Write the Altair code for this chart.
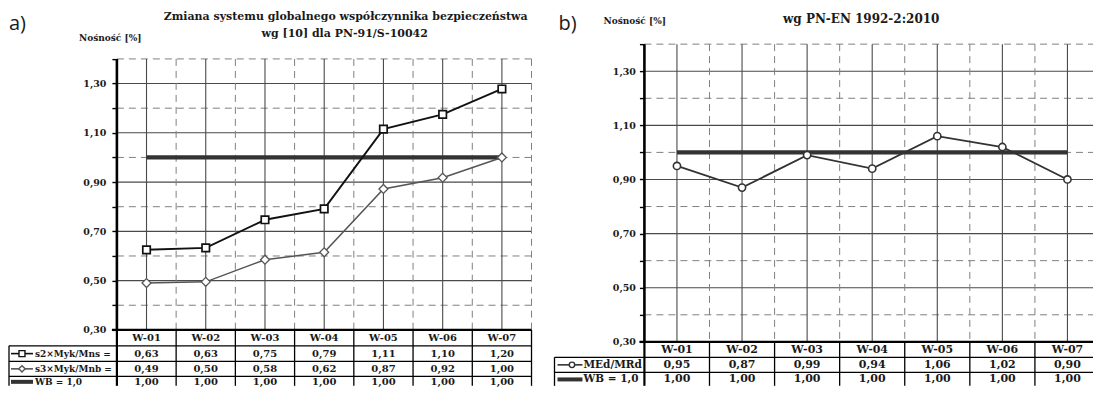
import altair as alt
import pandas as pd

# ---------------- data ----------------
cats = ["W-01", "W-02", "W-03", "W-04", "W-05", "W-06", "W-07"]

# panel a) - plotted positions
a_s2 = [0.625, 0.633, 0.747, 0.791, 1.115, 1.175, 1.278]
a_s3 = [0.49, 0.495, 0.585, 0.615, 0.872, 0.918, 1.00]
a_wb = [1.00, 1.00, 1.00, 1.00, 1.00, 1.00, 1.00]
# panel a) - table texts as printed
a_s2_txt = ["0,63", "0,63", "0,75", "0,79", "1,11", "1,10", "1,20"]
a_s3_txt = ["0,49", "0,50", "0,58", "0,62", "0,87", "0,92", "1,00"]
wb_txt = ["1,00", "1,00", "1,00", "1,00", "1,00", "1,00", "1,00"]

# panel b)
b_med = [0.95, 0.87, 0.99, 0.94, 1.06, 1.02, 0.90]
b_wb = [1.00, 1.00, 1.00, 1.00, 1.00, 1.00, 1.00]
b_med_txt = ["0,95", "0,87", "0,99", "0,94", "1,06", "1,02", "0,90"]

y_ticks = [0.3, 0.4, 0.5, 0.6, 0.7, 0.8, 0.9, 1.0, 1.1, 1.2, 1.3, 1.4]
y_solid = [0.5, 0.7, 0.9, 1.1, 1.3]
y_dashed = [0.4, 0.6, 0.8, 1.0, 1.2, 1.4]

FONT = "DejaVu Serif"
TXT = "#1a1a1a"
ONE = pd.DataFrame({"k": [0]})


def panel(cfg):
    W, H, bottom = cfg["W"], cfg["H"], cfg["bottom"]
    xs = alt.Scale(type="band", domain=cats, paddingInner=0, paddingOuter=0)
    ys = alt.Scale(domain=[0.3, cfg["ytop"]], nice=False, zero=False)
    yaxis = alt.Axis(
        values=y_ticks,
        labelExpr="round(datum.value*10) % 2 == 1 ? replace(format(datum.value, '.2f'), '.', ',') : ''",
        domain=False, grid=False, ticks=True, tickSize=5, tickColor="#000", tickWidth=1.4,
        labelFont=FONT, labelFontWeight="bold", labelFontSize=9.5, labelColor=TXT,
        labelPadding=cfg["lp"], labelOverlap=False, title=None,
    )

    def X(**kw):
        return alt.X("cat:N", scale=xs, axis=None, **kw)

    def Y(f):
        return alt.Y(f, scale=ys, axis=yaxis)

    L = []
    # horizontal grid
    L.append(alt.Chart(pd.DataFrame({"v": y_solid})).mark_rule(color="#4a4a4a", strokeWidth=1.1).encode(
        x=alt.value(0), x2=alt.value(W), y=Y("v:Q")))
    L.append(alt.Chart(pd.DataFrame({"v": y_dashed})).mark_rule(color="#808080", strokeWidth=1, strokeDash=[7, 5]).encode(
        x=alt.value(0), x2=alt.value(W), y=Y("v:Q")))
    # vertical grid
    vdf = pd.DataFrame({"cat": cats, "y0": [1.4] * 7, "y1": [0.3] * 7})
    L.append(alt.Chart(vdf).mark_rule(color="#4a4a4a", strokeWidth=1.1).encode(
        x=X(), y=Y("y0:Q"), y2="y1:Q"))
    L.append(alt.Chart(vdf.iloc[1:]).mark_rule(color="#808080", strokeWidth=1, strokeDash=[7, 5]).encode(
        x=X(bandPosition=0), y=Y("y0:Q"), y2="y1:Q"))
    L.append(alt.Chart(vdf.iloc[:1]).mark_rule(color="#808080", strokeWidth=1, strokeDash=[7, 5]).encode(
        x=alt.value(W), y=Y("y0:Q"), y2="y1:Q"))

    # series
    for s in cfg["series"]:
        df = pd.DataFrame({"cat": cats, "v": s["vals"]})
        L.append(alt.Chart(df).mark_line(color=s["color"], strokeWidth=s["lw"]).encode(x=X(), y=Y("v:Q")))
        if s.get("shape"):
            L.append(alt.Chart(df).mark_point(shape=s["shape"], filled=True, fill="white", stroke=s["color"],
                                              strokeWidth=s["mw"], size=s["size"], opacity=1).encode(
                x=X(), y=Y("v:Q")))

    # axis lines
    L.append(alt.Chart(vdf.iloc[:1]).mark_rule(color="#000", strokeWidth=2.6).encode(
        x=alt.value(0), y=Y("y0:Q"), y2="y1:Q"))
    L.append(alt.Chart(vdf.iloc[:1]).mark_rule(color="#000", strokeWidth=2.2).encode(
        x=alt.value(-5), x2=alt.value(W), y=Y("y1:Q")))

    # table grid
    lw = cfg["lblx0"]
    L.append(alt.Chart(vdf.iloc[1:]).mark_rule(color="#000", strokeWidth=1.3).encode(
        x=X(bandPosition=0), y=alt.value(H), y2=alt.value(bottom)))
    L.append(alt.Chart(ONE).mark_rule(color="#000", strokeWidth=1.3).encode(
        x=alt.value(W), y=alt.value(H), y2=alt.value(bottom)))
    L.append(alt.Chart(ONE).mark_rule(color="#000", strokeWidth=2.2).encode(
        x=alt.value(0), y=alt.value(H), y2=alt.value(bottom)))
    L.append(alt.Chart(ONE).mark_rule(color="#000", strokeWidth=1.3).encode(
        x=alt.value(lw), y=alt.value(cfg["row_tops"][0]), y2=alt.value(bottom)))
    for rt in cfg["row_tops"]:
        L.append(alt.Chart(ONE).mark_rule(color="#000", strokeWidth=1.3).encode(
            x=alt.value(lw), x2=alt.value(W), y=alt.value(rt)))

    fs = cfg["fs_tab"]
    # header
    L.append(alt.Chart(pd.DataFrame({"cat": cats})).mark_text(
        font=FONT, fontWeight="bold", fontSize=fs, color=TXT, baseline="middle", align="center").encode(
        x=X(), y=alt.value(cfg["hdr_c"]), text="cat:N"))
    sx0, sx1, mx, tx = cfg["sym"]
    for r in cfg["rows"]:
        df = pd.DataFrame({"cat": cats, "t": r["txt"]})
        L.append(alt.Chart(df).mark_text(
            font=FONT, fontWeight="bold", fontSize=fs, color=TXT, baseline="middle", align="center").encode(
            x=X(), y=alt.value(r["c"]), text="t:N"))
        lab = pd.DataFrame({"t": [r["label"]]})
        L.append(alt.Chart(lab).mark_text(
            font=FONT, fontWeight="bold", fontSize=cfg["fs_lbl"], color=TXT, baseline="middle", align="left").encode(
            x=alt.value(tx), y=alt.value(r["c"]), text="t:N"))
        L.append(alt.Chart(ONE).mark_rule(color=r["color"], strokeWidth=r["lw"]).encode(
            x=alt.value(sx0), x2=alt.value(sx1), y=alt.value(r["c"])))
        if r.get("shape"):
            L.append(alt.Chart(ONE).mark_point(shape=r["shape"], filled=True, fill="white", stroke=r["color"],
                                               strokeWidth=1.4, size=r["size"], opacity=1).encode(
                x=alt.value(mx), y=alt.value(r["c"])))

    # annotations
    for t in cfg["texts"]:
        L.append(alt.Chart(pd.DataFrame({"t": [t["text"]]})).mark_text(
            font=t.get("font", FONT), fontWeight=t.get("weight", "bold"), fontSize=t["size"], color=TXT,
            align=t["align"], baseline=t.get("baseline", "middle")).encode(
            x=alt.value(t["x"]), y=alt.value(t["y"]), text="t:N"))
    if cfg.get("anchor"):
        ax, ay = cfg["anchor"]
        L.append(alt.Chart(ONE).mark_rule(color="white", strokeWidth=1).encode(
            x=alt.value(ax), y=alt.value(ay), y2=alt.value(ay + 3)))

    return alt.layer(*L).properties(width=W, height=H)


cfg_a = dict(
    W=415, H=286, ytop=1.46, bottom=342, lp=6, lblx0=-108,
    row_tops=[302, 317.5, 332.5], hdr_c=294, fs_tab=10, fs_lbl=9,
    sym=(-106, -84, -95, -82),
    series=[
        dict(vals=a_wb, color="#333333", lw=4.2),
        dict(vals=a_s3, color="#555555", lw=1.5, shape="diamond", mw=1.3, size=80),
        dict(vals=a_s2, color="#111111", lw=1.9, shape="square", mw=1.7, size=56),
    ],
    rows=[
        dict(txt=a_s2_txt, c=309.75, label="s2×Myk/Mns =", color="#111111", lw=1.6, shape="square", size=36),
        dict(txt=a_s3_txt, c=325, label="s3×Myk/Mnb =", color="#555555", lw=1.6, shape="diamond", size=40),
        dict(txt=wb_txt, c=338, label="WB = 1,0", color="#333333", lw=4),
    ],
    texts=[
        dict(text="a)", x=-108, y=-14, size=20, align="left", baseline="alphabetic",
             font="Open Sans", weight="normal"),
        dict(text="Nośność [%]", x=-38, y=-6, size=9, align="left"),
        dict(text="Zmiana systemu globalnego współczynnika bezpieczeństwa", x=229, y=-27, size=11, align="center"),
        dict(text="wg [10] dla PN-91/S-10042", x=228, y=-10, size=11, align="center"),
    ],
    anchor=(-108, -35),
)

cfg_b = dict(
    W=456, H=298, ytop=1.40, bottom=342, lp=4, lblx0=-90,
    row_tops=[313.5, 328.5], hdr_c=305.8, fs_tab=11, fs_lbl=10.5,
    sym=(-87, -62, -72.5, -61),
    series=[
        dict(vals=b_wb, color="#333333", lw=4.2),
        dict(vals=b_med, color="#333333", lw=1.8, shape="circle", mw=1.6, size=52),
    ],
    rows=[
        dict(txt=b_med_txt, c=321, label="MEd/MRd", color="#333333", lw=1.6, shape="circle", size=30),
        dict(txt=wb_txt, c=335.6, label="WB = 1,0", color="#333333", lw=4),
    ],
    texts=[
        dict(text="b)", x=-86, y=-14, size=20, align="left", baseline="alphabetic",
             font="Open Sans", weight="normal"),
        dict(text="Nośność [%]", x=-41, y=-23, size=9, align="left"),
        dict(text="wg PN-EN 1992-2:2010", x=217, y=-25.5, size=12, align="center"),
    ],
)

pa = panel(cfg_a)
pb = panel(cfg_b)

chart = alt.hconcat(pa, pb, spacing=113, bounds="flush").configure_view(strokeWidth=0).properties(
    padding={"left": 0, "top": 0, "right": -9, "bottom": 0}, background="white")

chart.save("out.html", embed_options={"renderer": "svg", "actions": False})
